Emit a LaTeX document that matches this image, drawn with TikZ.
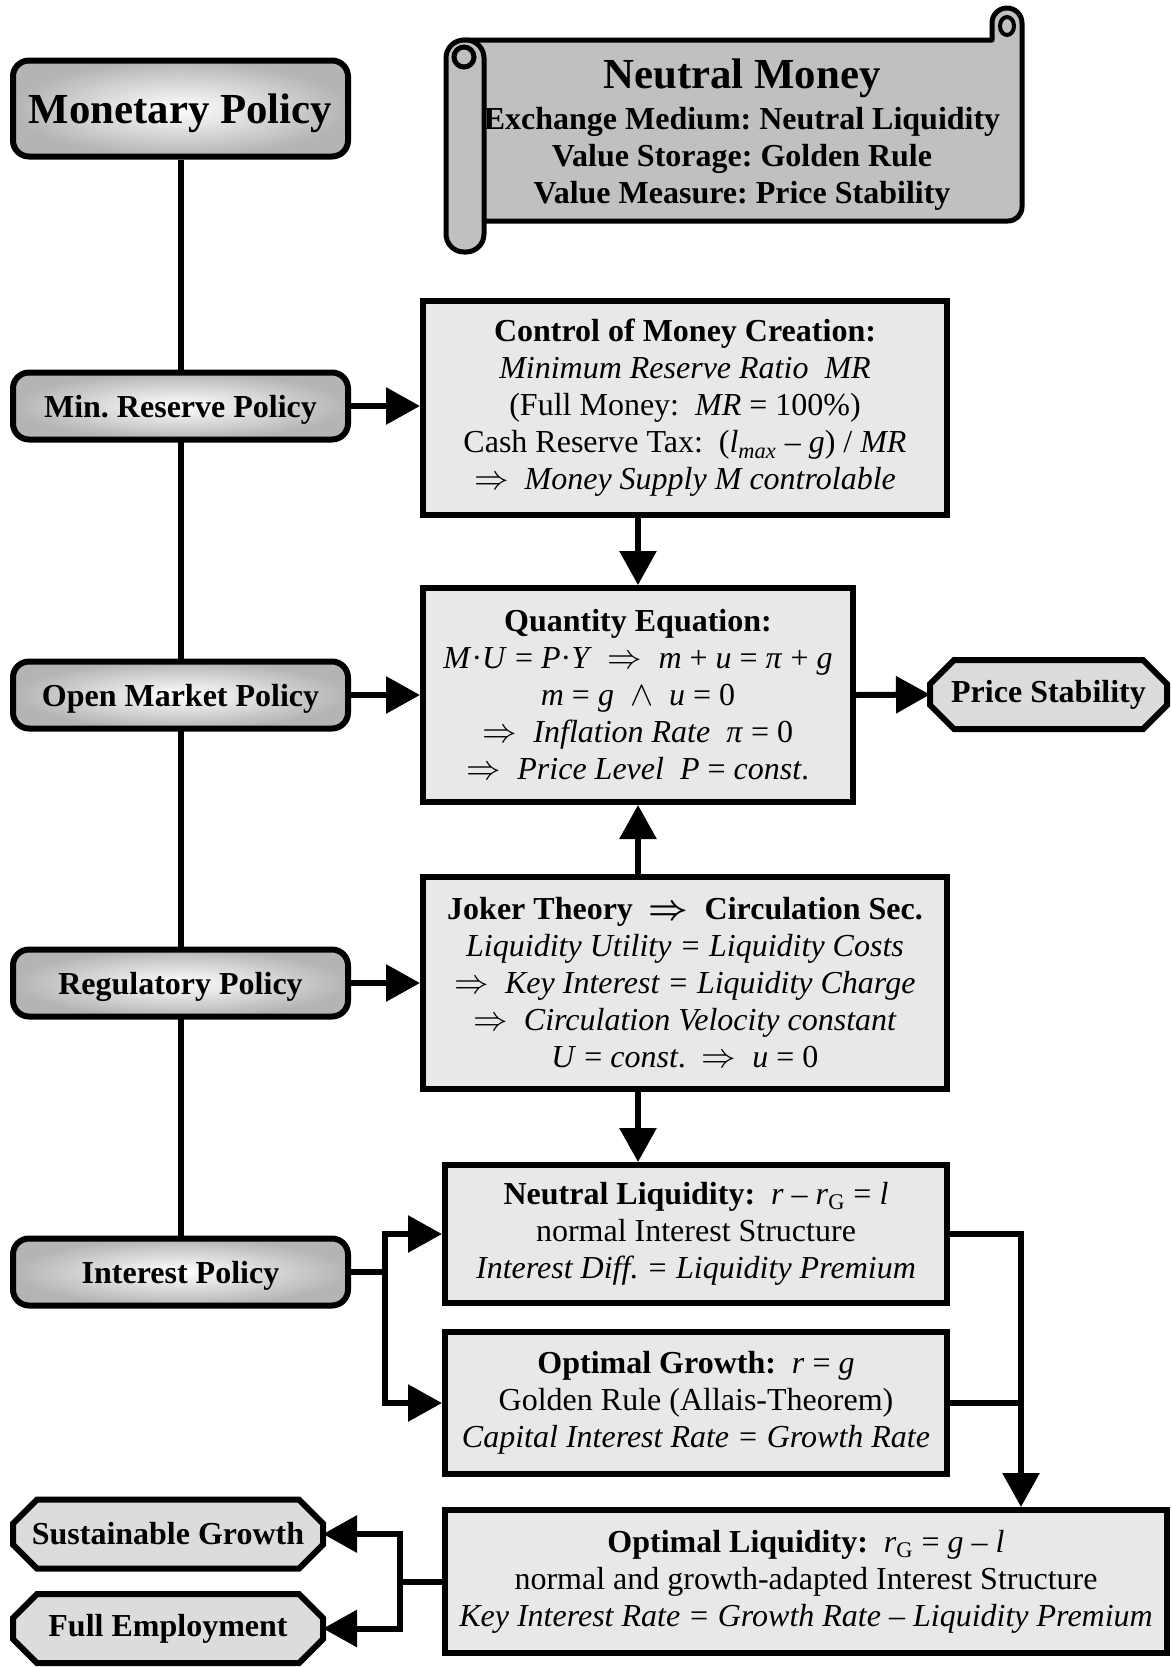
\documentclass[tikz,border=0pt]{standalone}
\usepackage{fontspec}
\setmainfont{Liberation Serif}
\usepackage{amsmath}
\usetikzlibrary{arrows.meta,backgrounds,calc}
\definecolor{boxfill}{HTML}{E8E8E8}
\definecolor{scrollfill}{HTML}{C0C0C0}
\definecolor{octfill}{HTML}{DCDCDC}
\definecolor{polout}{HTML}{B4B4B4}
\newcommand{\Ra}{$\Rightarrow$}
\newcommand{\bRa}{$\boldsymbol{\Rightarrow}$}
\newcommand{\ii}[1]{\textit{#1}}
\frenchspacing
\begin{document}
\begin{tikzpicture}[x=0.5pt,y=-0.5pt,
  policy/.style={draw, line width=3pt, rounded corners=8pt, inner color=white, outer color=polout,
    minimum width=167.5pt, minimum height=33.5pt, inner sep=0pt, text depth=0pt,
    font=\fontsize{16}{18.5}\selectfont\bfseries, align=center},
  mbox/.style={draw, line width=3pt, fill=boxfill, align=center, inner sep=0pt,
    font=\fontsize{16}{18.5}\selectfont},
  octnode/.style={inner sep=0pt, outer sep=0pt, minimum height=34.5pt,
    font=\fontsize{16}{18.5}\selectfont\bfseries},
  stext/.style={inner sep=0pt, font=\fontsize{16}{18.5}\selectfont\bfseries},
  scrollst/.style={draw, line width=2.5pt, fill=scrollfill, line join=round},
  conn/.style={line width=3pt},
  arr/.style={conn, -{Triangle[length=17pt,width=18pt]}}
]
\useasboundingbox (0,0) rectangle (1172,1667);

% scroll
\draw[scrollst] (464,40) -- (992,40) -- (992,23) arc[start angle=180,end angle=0,radius=7.5pt]
  -- (1022,207) arc[start angle=0,end angle=-90,radius=7pt] -- (464,221) -- cycle;
\draw[line width=2pt] (1007,26) ellipse[x radius=3.5pt, y radius=4.5pt];
\draw[scrollst, rounded corners=9pt] (446,40) rectangle (484,252);
\draw[line width=2.5pt] (464,57) ellipse[x radius=5pt, y radius=5pt];
\node[inner sep=0pt, font=\fontsize{21.4}{24}\selectfont\bfseries] (nmtitle) at (742,78) {Neutral Money};
\node[stext] (nm1) at (742,122) {Exchange Medium: Neutral Liquidity};
\node[stext] (nm2) at (742,159) {Value Storage: Golden Rule};
\node[stext] (nm3) at (742,196) {Value Measure: Price Stability};

% policy boxes
\node[policy, minimum height=48pt, font=\fontsize{21.4}{24}\selectfont\bfseries] (monetary) at (180.5,108.5) {Monetary Policy};
\node[policy] (minres) at (180.5,406) {Min. Reserve Policy};
\node[policy] (openm) at (180.5,695) {Open Market Policy};
\node[policy] (regul) at (180.5,983) {Regulatory Policy};
\node[policy] (interest) at (180.5,1272) {Interest Policy};

% main boxes
\node[mbox, minimum width=262pt, minimum height=107pt] (control) at (685,408)
 {\textbf{Control of Money Creation:}\\
  \ii{Minimum Reserve Ratio\ \ MR}\\
  (Full Money:\ \ \ii{MR} = 100\%)\\
  Cash Reserve Tax:\ \ (\ii{l}\textsubscript{\ii{max}} – \ii{g}) / \ii{MR}\\
  \Ra\ \ \ii{Money Supply M controlable}};
\node[mbox, minimum width=215pt, minimum height=107pt] (quantity) at (638,695)
 {\textbf{Quantity Equation:}\\
  \ii{M}·\ii{U} = \ii{P}·\ii{Y}\ \ \Ra\ \ \ii{m} + \ii{u} = \ii{π} + \ii{g}\\
  \ii{m} = \ii{g}\ \ $\wedge$\ \ \ii{u} = 0\\
  \Ra\ \ \ii{Inflation Rate}\ \ \ii{π} = 0\\
  \Ra\ \ \ii{Price Level}\ \ \ii{P} = \ii{const}.};
\node[mbox, minimum width=262pt, minimum height=106pt] (joker) at (685,983)
 {\textbf{Joker Theory\ \ \bRa\ \ Circulation Sec.}\\
  \ii{Liquidity Utility = Liquidity Costs}\\
  \Ra\ \ \ii{Key Interest = Liquidity Charge}\\
  \Ra\ \ \ii{Circulation Velocity constant}\\
  \ii{U} = \ii{const}.\ \ \Ra\ \ \ii{u} = 0};
\node[mbox, minimum width=251pt, minimum height=69pt] (neutral) at (696,1234)
 {\textbf{Neutral Liquidity:}\ \ \ii{r} – \ii{r}\textsubscript{G} = \ii{l}\\
  normal Interest Structure\\
  \ii{Interest Diff. = Liquidity Premium}};
\node[mbox, minimum width=251pt, minimum height=71pt] (growth) at (696,1403)
 {\textbf{Optimal Growth:}\ \ \ii{r} = \ii{g}\\
  Golden Rule (Allais-Theorem)\\
  \ii{Capital Interest Rate = Growth Rate}};
\node[mbox, minimum width=361pt, minimum height=71.5pt] (optliq) at (806,1581.5)
 {\textbf{Optimal Liquidity:}\ \ \ii{r}\textsubscript{G} = \ii{g} – \ii{l}\\
  normal and growth-adapted Interest Structure\\
  \ii{Key Interest Rate = Growth Rate – Liquidity Premium}};

% octagon nodes
\node[octnode, minimum width=118.5pt] (price) at (1048.5,694.5) {Price Stability};
\node[octnode, minimum width=155pt] (sg) at (168,1534) {Sustainable Growth};
\node[octnode, minimum width=155pt] (fe) at (168,1628.5) {Full Employment};

\begin{scope}[on background layer]
\draw[conn] (monetary.south) -- (interest.north);
\foreach \n in {price,sg,fe}{
 \draw[line width=3pt, fill=octfill, line join=miter]
   ([xshift=12pt]\n.north west) -- ([xshift=-12pt]\n.north east) -- ([yshift=-12pt]\n.north east)
   -- ([yshift=12pt]\n.south east) -- ([xshift=-12pt]\n.south east) -- ([xshift=12pt]\n.south west)
   -- ([yshift=12pt]\n.south west) -- ([yshift=-12pt]\n.north west) -- cycle;
}
\end{scope}

% connectors
\draw[arr] (minres.east) -- (control.west |- minres.east);
\draw[arr] (quantity.north |- control.south) -- (quantity.north);
\draw[arr] (quantity.south |- joker.north) -- (quantity.south);
\draw[arr] (openm.east) -- (quantity.west |- openm.east);
\draw[arr] (quantity.east) -- (price.west);
\draw[arr] (regul.east) -- (joker.west |- regul.east);
\draw[arr] (quantity.south |- joker.south) -- (quantity.south |- neutral.north);
\coordinate (isplit) at (385,1272);
\draw[arr] (interest.east) -- (isplit) |- (neutral.west);
\draw[arr] (interest.east) -- (isplit) |- (growth.west);
\coordinate (rjoin) at (1021,1234);
\draw[arr] (neutral.east) -| (rjoin |- optliq.north);
\draw[conn] (growth.east) -- (rjoin |- growth.east);
\coordinate (ljoin) at (400,1581.5);
\draw[arr] (optliq.west) -- (ljoin) |- (sg.east);
\draw[arr] (optliq.west) -- (ljoin) |- (fe.east);
\end{tikzpicture}
\end{document}
